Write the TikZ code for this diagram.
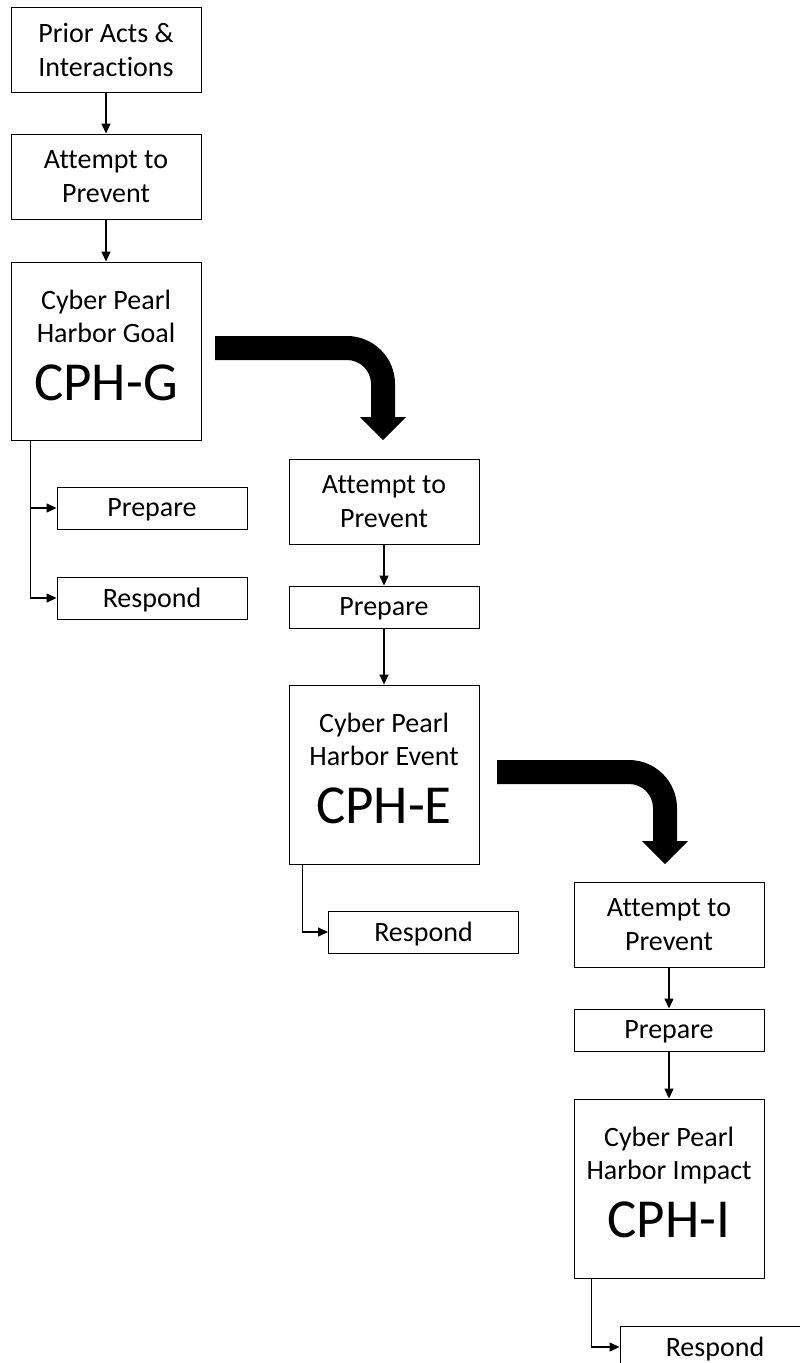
\documentclass[tikz,border=0pt]{standalone}
\usepackage{fontspec}
\setmainfont[Ligatures={NoCommon}]{Carlito}
\usetikzlibrary{arrows.meta}
\begin{document}
\begin{tikzpicture}[x=1pt,y=-1pt,
  box/.style={draw=black, line width=0.9pt, rectangle, minimum width=190pt, inner sep=0pt, align=center, font=\fontsize{28}{34}\selectfont},
  tallbox/.style={box, minimum height=85pt},
  shortbox/.style={box, minimum height=42pt, text depth=0pt},
  bigbox/.style={box, minimum height=178pt},
  txt/.style={inner sep=0pt, anchor=base, font=\fontsize{28}{34}\selectfont},
  hugetxt/.style={inner sep=0pt, anchor=base, font=\fontsize{55}{66}\selectfont},
  conn/.style={draw=black, line width=1.1pt, -{Triangle[length=10pt,width=9pt]}},
  bigarrow/.style={fill=black, draw=none}]
\useasboundingbox (0,0) rectangle (800,1363);
\clip (0,0) rectangle (800,1363);
% column 1
\node[tallbox] (b1) at (106,49.5) {Prior Acts \&\\Interactions};
\node[tallbox] (b2) at (106,176.5) {Attempt to\\Prevent};
\node[bigbox] (b3) at (106,351) {};
\node[txt] (b3a) at (106,309) {Cyber Pearl};
\node[txt] (b3b) at (106,342) {Harbor Goal};
\node[hugetxt] (b3c) at (106,400) {CPH-G};
\node[shortbox] (p1) at (152,508) {Prepare};
\node[shortbox] (r1) at (152,598) {Respond};
% column 2
\node[tallbox] (b4) at (384,501.5) {Attempt to\\Prevent};
\node[shortbox] (b5) at (384,607) {Prepare};
\node[bigbox, minimum height=179pt] (b6) at (384,774.5) {};
\node[txt] (b6a) at (384,732) {Cyber Pearl};
\node[txt] (b6b) at (384,765) {Harbor Event};
\node[hugetxt] (b6c) at (384,823) {CPH-E};
\node[shortbox] (r2) at (423.5,932) {Respond};
% column 3
\node[tallbox] (b7) at (669,924.5) {Attempt to\\Prevent};
\node[shortbox] (b8) at (669,1030) {Prepare};
\node[bigbox, minimum height=179pt] (b9) at (669,1188.5) {};
\node[txt] (b9a) at (669,1146) {Cyber Pearl};
\node[txt] (b9b) at (669,1179) {Harbor Impact};
\node[hugetxt] (b9c) at (669,1237) {CPH-I};
\node[shortbox] (r3) at (715,1347) {Respond};
% connectors
\draw[conn] (b1) -- (b2);
\draw[conn] (b2) -- (b3);
\path (b3.south west) ++(19.5,0) coordinate (s3);
\draw[conn] (s3) |- (p1.west);
\draw[conn] (s3) |- (r1.west);
\draw[conn] (b4) -- (b5);
\draw[conn] (b5) -- (b6);
\path (b6.south west) ++(14,0) coordinate (s6);
\draw[conn] (s6) |- (r2.west);
\draw[conn] (b7) -- (b8);
\draw[conn] (b8) -- (b9);
\path (b9.south west) ++(18,0) coordinate (s9);
\draw[conn] (s9) |- (r3.west);
% big bent arrows
\fill[bigarrow] (215,336) -- (347,336) .. controls (373.5,336) and (395,357.5) .. (395,384)
  -- (395,417) -- (406,417) -- (383,440) -- (360,417) -- (371,417) -- (371,384)
  .. controls (371,370.7) and (360.3,360) .. (347,360) -- (215,360) -- cycle;
\begin{scope}[shift={(282,424)}]
\fill[bigarrow] (215,336) -- (347,336) .. controls (373.5,336) and (395,357.5) .. (395,384)
  -- (395,417) -- (406,417) -- (383,440) -- (360,417) -- (371,417) -- (371,384)
  .. controls (371,370.7) and (360.3,360) .. (347,360) -- (215,360) -- cycle;
\end{scope}
\end{tikzpicture}
\end{document}
